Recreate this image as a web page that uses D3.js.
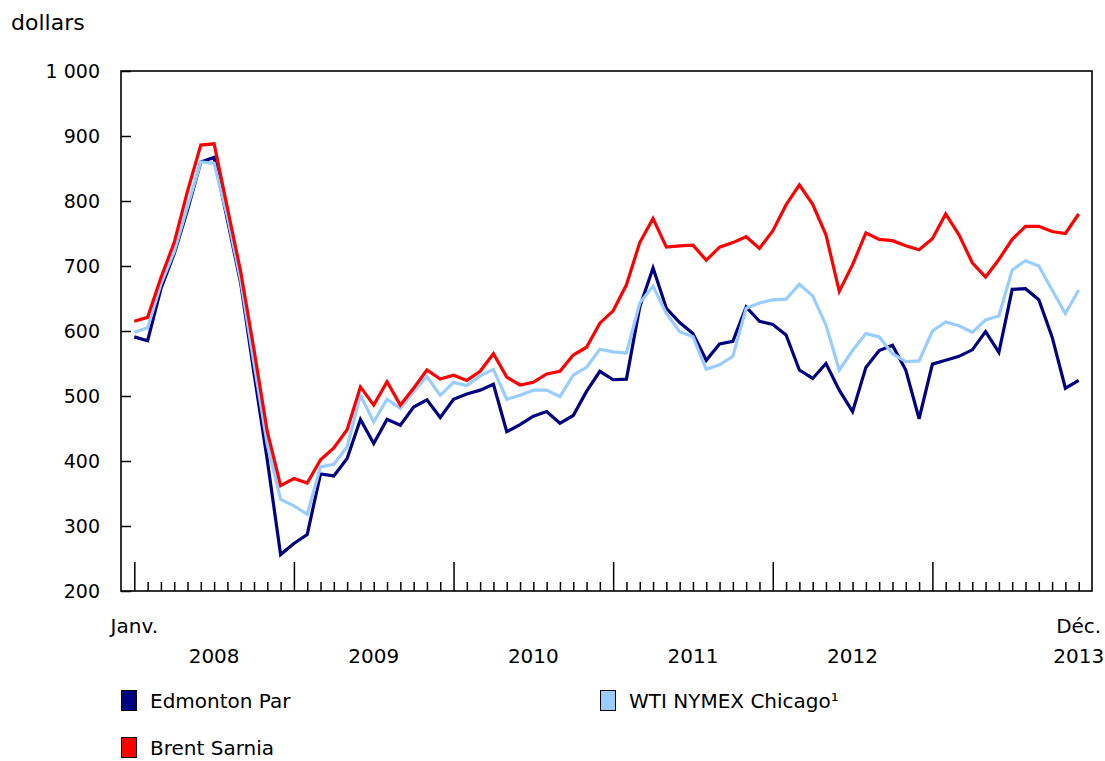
<!DOCTYPE html>
<html>
<head>
<meta charset="utf-8">
<script src="https://cdn.jsdelivr.net/npm/d3@7"></script>
<style>
  html, body { margin: 0; padding: 0; background: #fff; }
  svg text { font-family: "DejaVu Sans", Verdana, sans-serif; fill: #000; }
</style>
</head>
<body>
<svg id="chart" width="1105" height="761"></svg>
<script>
// ---- data (monthly, Jan 2008 - Dec 2013), dollars ----
const years = ["2008", "2009", "2010", "2011", "2012", "2013"];
const startLabel = "Janv.";
const endLabel = "Déc.";
const yTicks = [200, 300, 400, 500, 600, 700, 800, 900, 1000];

const edmontonPar = [
  591, 585, 665, 719, 786, 860, 867, 771, 673, 535, 401, 256,
  273, 287, 380, 377, 404, 464, 427, 464, 455, 483, 494, 467,
  495, 503, 509, 518, 445, 456, 469, 476, 458, 470, 507, 538,
  525, 526, 637, 697, 635, 613, 596, 555, 580, 584, 637, 615,
  610, 594, 540, 527, 550, 509, 476, 544, 570, 578, 540, 465,
  549, 555, 561, 571, 599, 567, 664, 665, 648, 591, 512, 524
];
const wtiChicago = [
  598, 605, 672, 722, 791, 860, 858, 776, 678, 550, 425, 341,
  331, 318, 391, 395, 422, 501, 460, 495, 481, 507, 530, 501,
  521, 516, 531, 541, 495, 501, 509, 509, 499, 532, 544, 572,
  568, 566, 643, 669, 627, 599, 591, 541, 548, 561, 635, 643,
  648, 649, 672, 654, 609, 540, 570, 596, 591, 565, 553, 554,
  600, 614, 608, 598, 617, 623, 694, 708, 700, 663, 627, 663
];
const brentSarnia = [
  615, 621, 682, 736, 815, 886, 888, 789, 691, 571, 445, 362,
  373, 366, 402, 420, 448, 514, 486, 522, 486, 512, 540, 526,
  532, 524, 538, 565, 529, 517, 521, 534, 538, 563, 575, 612,
  631, 671, 736, 773, 729, 731, 732, 709, 729, 736, 745, 727,
  754, 794, 825, 795, 748, 661, 702, 751, 741, 739, 731, 725,
  742, 780, 748, 705, 683, 710, 741, 761, 761, 753, 750, 780
];

const seriesNames = ["Edmonton Par", "WTI NYMEX Chicago\u00B9", "Brent Sarnia"];
const seriesColors = ["#000080", "#99ccff", "#ff0000"];
const seriesData = [edmontonPar, wtiChicago, brentSarnia];

// ---- layout ----
const FS = 20;
const svg = d3.select("#chart");
const L = 121, R = 1092, T = 71, B = 591;
const n = edmontonPar.length;

const x = d3.scaleLinear().domain([-1, n]).range([L, R]);
const y = d3.scaleLinear().domain([200, 1000]).range([B, T]);

const fmt = d3.formatLocale({decimal: ",", thousands: " ", grouping: [3], currency: ["", "$"]}).format(",d");

// y axis (ticks inward)
const yAxis = svg.append("g")
  .attr("transform", `translate(${L},0)`)
  .call(d3.axisLeft(y).tickValues(yTicks).tickSize(-10).tickPadding(21).tickFormat(fmt));
yAxis.select(".domain").remove();
yAxis.selectAll(".tick line").attr("stroke", "#000").attr("stroke-width", 1.5);
yAxis.selectAll(".tick text")
  .attr("font-size", 19)
  .attr("font-family", "DejaVu Sans, Verdana, sans-serif");

// x axis ticks (monthly minor, yearly major)
const xAxis = svg.append("g")
  .attr("transform", `translate(0,${B})`)
  .call(d3.axisBottom(x).tickValues(d3.range(n)).tickSize(-9).tickFormat(""));
xAxis.select(".domain").remove();
xAxis.selectAll(".tick line")
  .attr("stroke", "#000").attr("stroke-width", 1.5)
  .attr("y2", d => d % 12 === 0 ? -29 : -9);

// frame
svg.append("rect")
  .attr("x", L).attr("y", T)
  .attr("width", R - L).attr("height", B - T)
  .attr("fill", "none").attr("stroke", "#000").attr("stroke-width", 1.6);

// x labels
svg.append("text").attr("x", x(0)).attr("y", 633)
  .attr("text-anchor", "middle").attr("font-size", FS).text(startLabel);
svg.append("text").attr("x", x(n - 1)).attr("y", 633)
  .attr("text-anchor", "middle").attr("font-size", FS).text(endLabel);
years.forEach((yr, k) => {
  const last = k === years.length - 1;
  const pos = last ? x(n - 1) : (x(k * 12) + x(k * 12 + 12)) / 2;
  svg.append("text").attr("x", pos).attr("y", 663)
    .attr("text-anchor", "middle").attr("font-size", FS).text(yr);
});

// y unit label
svg.append("text").attr("x", 11).attr("y", 30).attr("font-size", 22).text("dollars");

// lines
const line = d3.line().x((d, i) => x(i)).y(d => y(d));
seriesData.forEach((data, s) => {
  svg.append("path")
    .datum(data)
    .attr("fill", "none")
    .attr("stroke", seriesColors[s])
    .attr("stroke-width", 3.2)
    .attr("stroke-linejoin", "miter")
    .attr("d", line);
});

// legend
const legendPos = [[121, 690], [600, 690], [121, 737]];
seriesNames.forEach((name, s) => {
  const [lx, ly] = legendPos[s];
  svg.append("rect").attr("x", lx + 0.5).attr("y", ly + 0.5)
    .attr("width", 15).attr("height", 20)
    .attr("fill", seriesColors[s]).attr("stroke", "#000").attr("stroke-width", 1);
  svg.append("text").attr("x", lx + 29).attr("y", ly + 18)
    .attr("font-size", FS).text(name);
});
</script>
</body>
</html>
